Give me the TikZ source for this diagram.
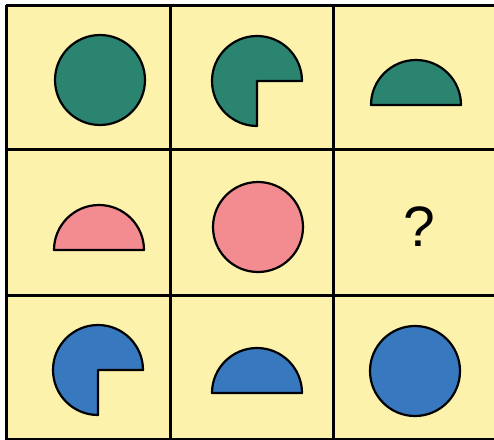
\documentclass[tikz,border=0pt]{standalone}
\usepackage{fontspec}
\setmainfont{Liberation Sans}
\definecolor{cellyellow}{RGB}{252,242,172}
\definecolor{shgreen}{RGB}{42,132,112}
\definecolor{shpink}{RGB}{242,140,145}
\definecolor{shblue}{RGB}{55,120,190}
\tikzset{
  gridline/.style={line width=3pt, black},
  shapeline/.style={line width=2.2pt, black, line join=round},
}
\begin{document}
\begin{tikzpicture}[x=1pt,y=-1pt]
\useasboundingbox (0,0) rectangle (494,439);
\clip (0,0) rectangle (494,439);
\fill[white] (0,0) rectangle (494,439);
\fill[cellyellow] (6,5) rectangle (500,445);
% cell centres (named)
\coordinate (c11) at (100,80);
\coordinate (c12) at (257,81);
\coordinate (c13) at (416,105);
\coordinate (c21) at (99,250);
\coordinate (c22) at (258,227);
\coordinate (c23) at (419,227);
\coordinate (c31) at (98,370);
\coordinate (c32) at (257,393);
\coordinate (c33) at (415,371);
% row 1 (green)
\filldraw[shapeline, fill=shgreen] (c11) circle[radius=45];
\filldraw[shapeline, fill=shgreen] (c12) -- ++(45,0) arc[start angle=0, end angle=-270, radius=45] -- cycle;
\filldraw[shapeline, fill=shgreen] (c13) ++(45,0) arc[start angle=0, end angle=-180, radius=45] -- cycle;
% row 2 (pink)
\filldraw[shapeline, fill=shpink] (c21) ++(45,0) arc[start angle=0, end angle=-180, radius=45] -- cycle;
\filldraw[shapeline, fill=shpink] (c22) circle[radius=45];
\node[font=\fontsize{57}{60}\selectfont] (q) at (c23) {?};
% row 3 (blue)
\filldraw[shapeline, fill=shblue] (c31) -- ++(45,0) arc[start angle=0, end angle=-270, radius=45] -- cycle;
\filldraw[shapeline, fill=shblue] (c32) ++(45,0) arc[start angle=0, end angle=-180, radius=45] -- cycle;
\filldraw[shapeline, fill=shblue] (c33) circle[radius=45];
% grid
\draw[gridline] (6,5) -- (500,5);
\draw[gridline] (6,149) -- (500,149);
\draw[gridline] (6,295) -- (500,295);
\draw[gridline] (6,439) -- (500,439);
\draw[gridline] (6,5) -- (6,445);
\draw[gridline] (170,5) -- (170,445);
\draw[gridline] (333,5) -- (333,445);
\end{tikzpicture}
\end{document}
